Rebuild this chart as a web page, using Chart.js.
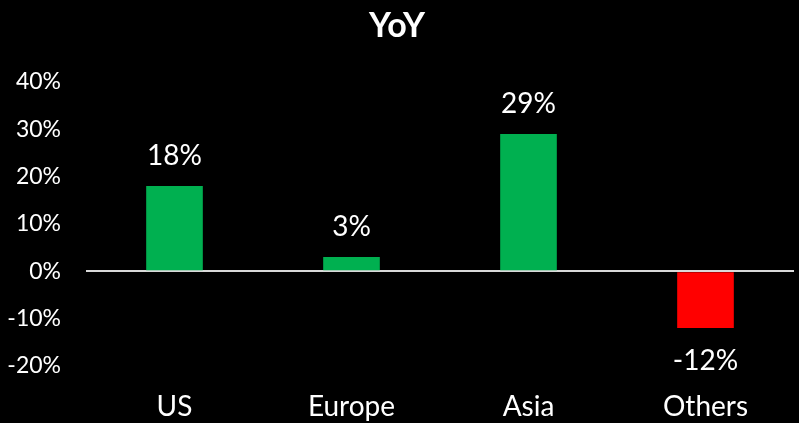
<!DOCTYPE html>
<html>
<head>
<meta charset="utf-8">
<script src="https://cdn.jsdelivr.net/npm/chart.js@4/dist/chart.umd.min.js"></script>
<style>
  html, body { margin: 0; padding: 0; background: #000; }
  #wrap { width: 799px; height: 423px; }
</style>
</head>
<body>
<div id="wrap"><canvas id="chart"></canvas></div>
<script>
const regions = ['US', 'Europe', 'Asia', 'Others'];
const yoyValues = [18, 3, 29, -12];
const yMin = -20;
const yMax = 40;
const yStep = 10;

const GREEN = '#00B050';
const RED = '#FF0000';
const FONT = 'Lato, "Open Sans", sans-serif';

// labels above / below each bar
const valueLabels = {
  id: 'valueLabels',
  afterDatasetsDraw(chart) {
    const ctx = chart.ctx;
    const meta = chart.getDatasetMeta(0);
    ctx.save();
    ctx.fillStyle = '#fff';
    ctx.font = '28px ' + FONT;
    ctx.textAlign = 'center';
    ctx.textBaseline = 'middle';
    meta.data.forEach((bar, i) => {
      const v = yoyValues[i];
      const y = v >= 0 ? bar.y - 30 : bar.y + 33;
      ctx.fillText(v + '%', bar.x, y);
    });
    ctx.restore();
  }
};

new Chart(document.getElementById('chart'), {
  type: 'bar',
  data: {
    labels: regions,
    datasets: [{
      data: yoyValues,
      backgroundColor: yoyValues.map(v => v >= 0 ? GREEN : RED),
      categoryPercentage: 1,
      barPercentage: 0.32
    }]
  },
  options: {
    responsive: true,
    maintainAspectRatio: false,
    animation: false,
    layout: { padding: { left: 0, right: 5, top: 0, bottom: 0 } },
    plugins: {
      legend: { display: false },
      tooltip: { enabled: false },
      title: {
        display: true,
        text: 'YoY',
        color: '#fff',
        font: { family: FONT, size: 34, weight: 'bold' },
        padding: { top: 6, bottom: 35 }
      }
    },
    scales: {
      x: {
        grid: { display: false, drawTicks: false },
        border: { display: false },
        ticks: {
          color: '#fff',
          font: { family: FONT, size: 28 },
          padding: 24
        },
        afterFit: s => { s.height = 57; }
      },
      y: {
        min: yMin,
        max: yMax,
        grid: {
          drawTicks: false,
          lineWidth: 2,
          color: c => c.tick && c.tick.value === 0 ? '#d9d9d9' : 'rgba(0,0,0,0)'
        },
        border: { display: false },
        ticks: {
          stepSize: yStep,
          color: '#fff',
          font: { family: FONT, size: 23 },
          padding: 25,
          callback: v => v + '%'
        },
        afterFit: s => { s.width = 86; }
      }
    }
  },
  plugins: [valueLabels]
});
</script>
</body>
</html>
